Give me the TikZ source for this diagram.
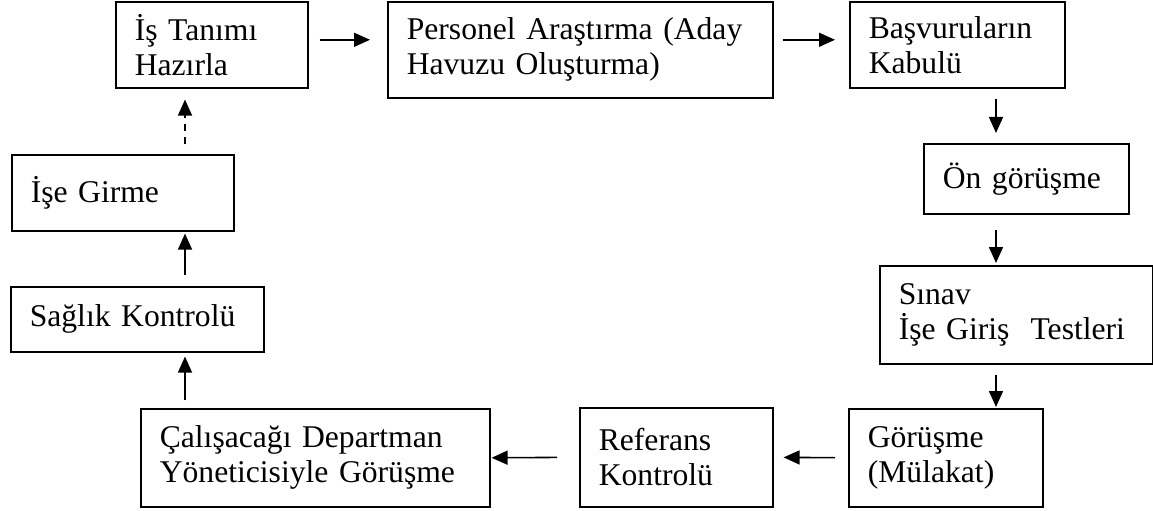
\documentclass[tikz,border=0pt]{standalone}
\usepackage{fontspec}
\setmainfont{Liberation Serif}
\usetikzlibrary{arrows.meta}
\begin{document}
\begin{tikzpicture}
	\tikzset{step_box/.style={draw, line width=0.9pt, anchor=north west, align=left, inner xsep=0.38cm, inner ysep=0pt, font=\fontsize{18}{20}\selectfont}}
	\tikzset{flow_arrow/.style={line width=0.9pt, -{Triangle[length=0.32cm,width=0.28cm]}}}
	\useasboundingbox (0,0) rectangle (23.06,-10.22);
	% top row
	\node[step_box, text width=3.08cm, minimum height=1.72cm] (is_tanimi) at (2.30,-0.02) {İş Tanımı\\Hazırla};
	\node[step_box, text width=6.94cm, minimum height=1.92cm] (arastirma) at (7.74,-0.02) {Personel Araştırma (Aday\\Havuzu Oluşturma)};
	\node[step_box, text width=3.54cm, minimum height=1.72cm] (basvuru) at (16.98,-0.02) {Başvuruların\\Kabulü};
	% right column
	\node[step_box, text width=3.34cm, minimum height=1.40cm] (on_gorusme) at (18.46,-2.86) {Ön görüşme};
	\node[step_box, text width=4.70cm, minimum height=1.96cm] (sinav) at (17.58,-5.30) {Sınav\\İşe Giriş\ \ Testleri};
	% bottom row
	\node[step_box, text width=3.12cm, minimum height=1.96cm] (gorusme) at (16.96,-8.16) {Görüşme\\(Mülakat)};
	\node[step_box, text width=3.10cm, minimum height=1.98cm] (referans) at (11.58,-8.14) {Referans\\Kontrolü};
	\node[step_box, text width=6.22cm, minimum height=1.96cm] (calisacak) at (2.80,-8.16) {Çalışacağı Departman\\Yöneticisiyle Görüşme};
	% left column
	\node[step_box, text width=4.30cm, minimum height=1.30cm] (saglik) at (0.20,-5.72) {Sağlık Kontrolü};
	\node[step_box, text width=3.68cm, minimum height=1.52cm] (ise_girme) at (0.22,-3.08) {İşe Girme};
	\coordinate (right_col) at (19.92,0);
	\coordinate (left_col) at (3.70,0);
	\draw[flow_arrow, shorten <=0.22cm, shorten >=0.34cm] ([yshift=0.1cm]is_tanimi.east) -- ([yshift=0.1cm]is_tanimi.east -| arastirma.west);
	\draw[flow_arrow, shorten <=0.18cm, shorten >=0.28cm] ([yshift=0.1cm]is_tanimi.east -| arastirma.east) -- ([yshift=0.1cm]is_tanimi.east -| basvuru.west);
	\draw[flow_arrow, shorten <=0.2cm, shorten >=0.2cm] (basvuru.south -| right_col) -- (on_gorusme.north -| right_col);
	\draw[flow_arrow, shorten <=0.3cm, shorten >=0.04cm] (on_gorusme.south -| right_col) -- (sinav.north -| right_col);
	\draw[flow_arrow, shorten <=0.2cm, shorten >=0.02cm] (sinav.south -| right_col) -- (gorusme.north -| right_col);
	\draw[flow_arrow, shorten <=0.26cm, shorten >=0.2cm] (gorusme.west) -- (referans.east);
	\draw[flow_arrow, shorten <=0.44cm, shorten >=0.02cm] (referans.west) -- (calisacak.east);
	\draw[flow_arrow, shorten <=0.16cm, shorten >=0.08cm] (calisacak.north -| left_col) -- (saglik.south -| left_col);
	\draw[flow_arrow, shorten <=0.22cm, shorten >=0.04cm] (saglik.north -| left_col) -- (ise_girme.south -| left_col);
	\draw[flow_arrow, dash pattern=on 0.14cm off 0.12cm, shorten <=0.2cm, shorten >=0.22cm] (ise_girme.north -| left_col) -- (is_tanimi.south -| left_col);
\end{tikzpicture}
\end{document}
